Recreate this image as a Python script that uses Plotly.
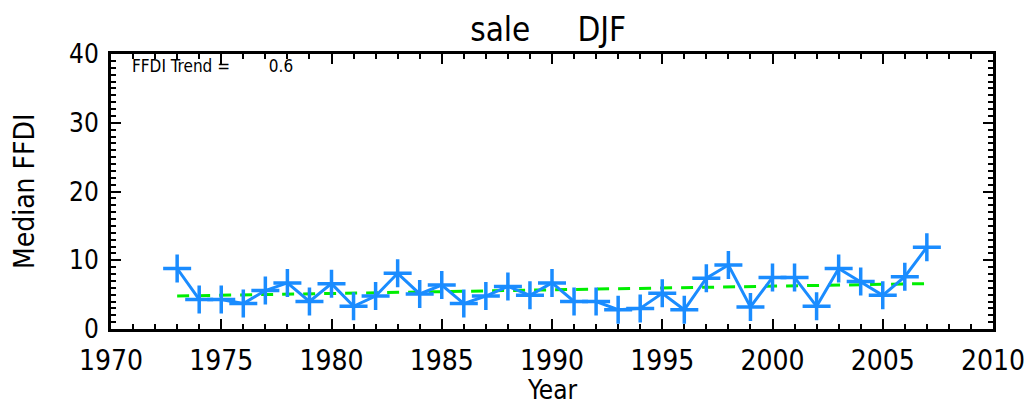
import plotly.graph_objects as go

years = list(range(1973, 2008))
ffdi = [8.8, 4.3, 4.3, 3.7, 5.6, 6.7, 4.0, 6.6, 3.3, 4.8, 8.1, 5.1, 6.4,
        3.7, 4.8, 6.2, 4.9, 6.7, 4.0, 4.0, 2.8, 3.0, 5.2, 2.8, 7.4, 9.3,
        3.2, 7.5, 7.5, 3.3, 8.8, 6.9, 4.9, 7.6, 11.9]
trend_years = [1973, 2007]
trend_vals = [4.8, 6.6]
trend_label = "FFDI Trend =&nbsp;&nbsp;&nbsp;&nbsp;&nbsp;&nbsp;&nbsp;&nbsp;0.6"
title_text = "sale&nbsp;&nbsp;&nbsp;&nbsp;&nbsp;DJF"
x_title = "Year"
y_title = "Median FFDI"

FONT = "Liberation Sans Narrow, DejaVu Sans Condensed, Arial Narrow, Liberation Sans, sans-serif"

fig = go.Figure()
fig.add_trace(go.Scatter(
    x=trend_years, y=trend_vals, mode="lines",
    line=dict(color="#00ee00", width=3, dash="12px,9px"),
    showlegend=False, hoverinfo="skip"))
fig.add_trace(go.Scatter(
    x=years, y=ffdi, mode="lines+markers",
    line=dict(color="#1a8cff", width=3),
    marker=dict(symbol="cross-thin", size=20, line=dict(color="#1a8cff", width=3.5)),
    showlegend=False))

axis_common = dict(
    showline=True, linecolor="black", linewidth=3, mirror="ticks",
    ticks="inside", ticklen=10, tickwidth=2, tickcolor="black",
    showgrid=False, zeroline=False, automargin=False,
)

fig.update_xaxes(range=[1970, 2010], dtick=5, tick0=1970, tickformat="d",
                 minor=dict(dtick=1, ticks="inside", ticklen=5, tickwidth=2, tickcolor="black"),
                 ticklabelstandoff=4,
                 tickfont=dict(family=FONT, size=28, color="black"),
                 **axis_common)
fig.update_yaxes(range=[0, 40], dtick=10, tick0=0,
                 minor=dict(dtick=1, ticks="inside", ticklen=5, tickwidth=2, tickcolor="black"),
                 ticklabelstandoff=4,
                 tickfont=dict(family=FONT, size=26, color="black"),
                 **axis_common)

fig.add_annotation(x=0.5, y=-0.222, xref="paper", yref="paper",
                   text=x_title, showarrow=False, xanchor="center", yanchor="middle",
                   font=dict(family=FONT, size=26, color="black"))
fig.add_annotation(x=-0.098, y=0.5, xref="paper", yref="paper",
                   text=y_title, showarrow=False, xanchor="center", yanchor="middle",
                   textangle=-90,
                   font=dict(family=FONT, size=28, color="black"))

fig.add_annotation(x=0.022, y=1.0, xref="paper", yref="paper",
                   text=trend_label, showarrow=False, xanchor="left", yanchor="top",
                   font=dict(family=FONT, size=17, color="black"))

# page body has an 8px margin: figure is sized/positioned to compensate
fig.update_layout(
    width=1025, height=397,
    margin=dict(l=103, r=40, t=46, b=76, autoexpand=False),
    paper_bgcolor="white", plot_bgcolor="white",
    title=dict(text=title_text, x=0.527, xanchor="center", y=0.947, yanchor="middle",
               font=dict(family=FONT, size=33, color="black")),
)

fig.write_html("out.html")
